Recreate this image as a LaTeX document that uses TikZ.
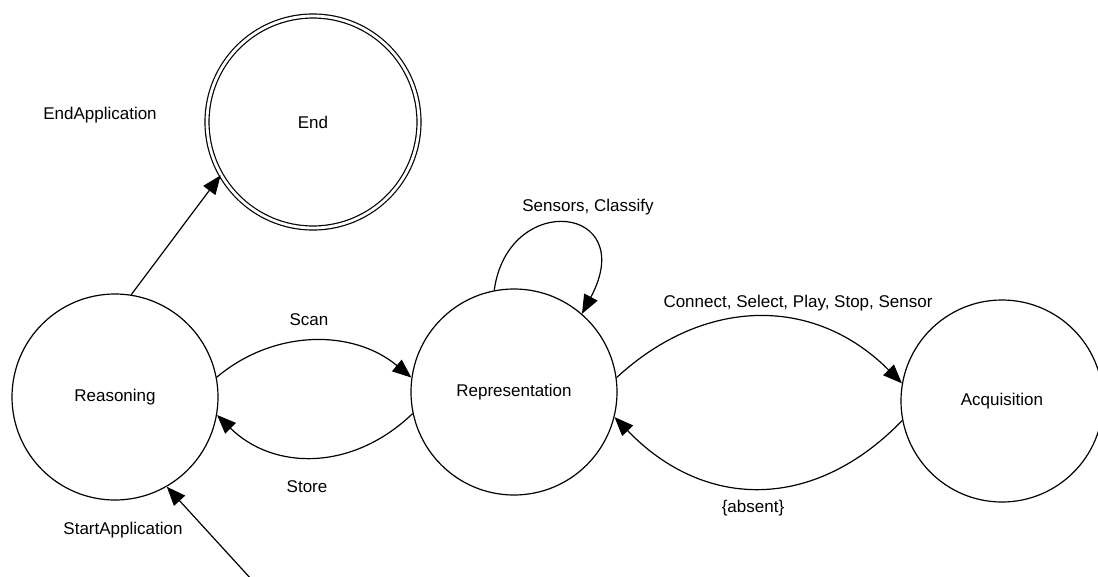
\documentclass[tikz,border=0pt]{standalone}
\usepackage{fontspec}
\setmainfont{Liberation Sans}
\usetikzlibrary{arrows.meta}
\begin{document}
\begin{tikzpicture}[x=1pt,y=-1pt,
  state/.style={circle,draw,line width=1.2pt,minimum size=206pt,inner sep=0pt,font=\fontsize{17}{20}\selectfont},
  lbl/.style={font=\fontsize{17}{20}\selectfont,inner sep=0pt},
  edge/.style={line width=1.2pt,-{Triangle[length=19pt,width=15pt]}}]
\clip (0,0) rectangle (1098,576);
\node[state] (R) at (115,397) {Reasoning};
\node[state,double,double distance=2.8pt,minimum size=212pt] (E) at (313,122) {End};
\node[state] (P) at (514,392) {Representation};
\node[state,minimum size=202pt] (A) at (1002,401) {Acquisition};
\coordinate (s) at (252,580);
\draw[edge] (R.11) .. controls (274,329) and (353,329) .. (P.172);
\draw[edge] (P.192) .. controls (353,471) and (274,471) .. (R.-10);
\draw[edge] (P.8) .. controls (705,296) and (815,296) .. (A.170);
\draw[edge] (A.191) .. controls (815,511) and (705,511) .. (P.-14);
\draw[edge] (P.101) .. controls (508,190) and (640,205) .. (P.49);
\draw[edge] (R.81) -- (E.210);
\draw[edge] (s) -- (R.-60);
\node[lbl] (lEnd) at (100,115) {EndApplication};
\node[lbl] (lStart) at (123,530) {StartApplication};
\node[lbl] (lScan) at (309,320) {Scan};
\node[lbl] (lStore) at (307,487) {Store};
\node[lbl] (lSC) at (588,207) {Sensors, Classify};
\node[lbl] (lConn) at (798,303) {Connect, Select, Play, Stop, Sensor};
\node[lbl] (lAbs) at (753,508) {\{absent\}};
\end{tikzpicture}
\end{document}
